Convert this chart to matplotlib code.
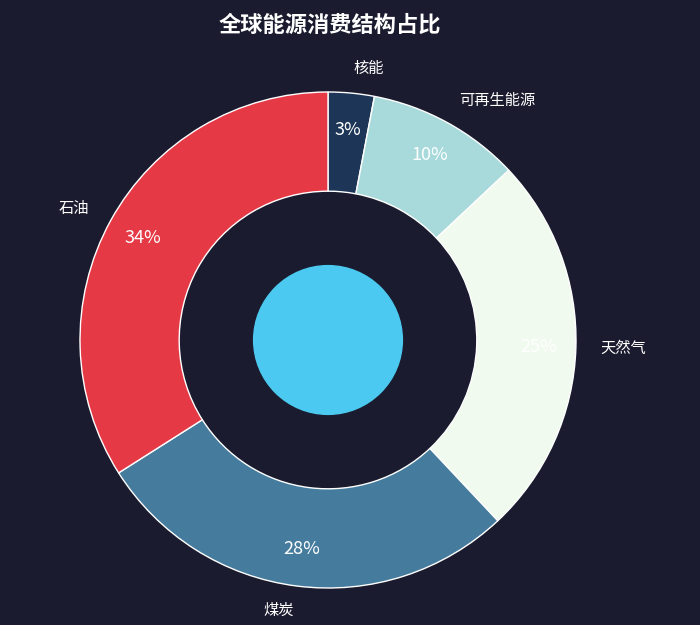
import matplotlib
matplotlib.use("Agg")
import matplotlib.pyplot as plt
from matplotlib.patches import Circle

plt.rcParams['font.family'] = ['Noto Sans CJK SC', 'DejaVu Sans']

categories = ['核能', '可再生能源', '天然气', '煤炭', '石油']
values = [3, 10, 25, 28, 34]
colors = ['#1d3557', '#a8dadc', '#f1faee', '#457b9d', '#e63946']
title = '全球能源消费结构占比'

bg = '#1a1b2e'
fig = plt.figure(figsize=(7, 6.25), dpi=100, facecolor=bg)
ax = fig.add_axes([0, 0, 1, 1])
ax.set_facecolor(bg)

wedges, texts, autotexts = ax.pie(
    values, labels=categories, colors=colors, startangle=90, counterclock=False,
    autopct='%1.0f%%', pctdistance=0.85, labeldistance=1.1,
    wedgeprops=dict(width=0.4, edgecolor='white', linewidth=1),
    textprops=dict(color='white', fontsize=11))
for t in autotexts:
    t.set_color('white')
    t.set_fontsize(13)

ax.add_patch(Circle((0, 0), 0.3, color='#4cc9f0', zorder=3))

ax.set_xlim(-328 / 248, (700 - 328) / 248)
ax.set_ylim(-285 / 248, 340 / 248)
ax.set_aspect('auto')
ax.axis('off')

fig.text(330 / 700, 1 - 25 / 625, title, ha='center', va='center',
         color='white', fontsize=16, fontweight='bold')

fig.savefig('out.png', dpi=100, facecolor=bg)
